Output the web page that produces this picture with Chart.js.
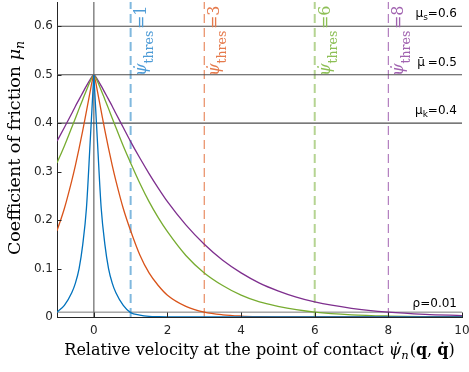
<!DOCTYPE html>
<html>
<head>
<meta charset="utf-8">
<script src="https://cdn.jsdelivr.net/npm/chart.js@4.4.1/dist/chart.umd.min.js"></script>
<style>
  html, body { margin: 0; padding: 0; background: #fff; }
</style>
</head>
<body>
<canvas id="friction" width="469" height="372"></canvas>
<script>
// relative velocity samples (x) and friction coefficient
const velocity = [-1, -0.8, -0.6, -0.5, -0.4, -0.3, -0.2, -0.1, -0.05, 0, 0.05, 0.1, 0.2, 0.3, 0.4, 0.5, 0.6, 0.8, 1, 1.25, 1.5, 1.75, 2, 2.5, 3, 3.5, 4, 4.5, 5, 5.5, 6, 7, 8, 9, 10];
const muThres1 = [0.01, 0.024, 0.05, 0.07, 0.10, 0.15, 0.225, 0.36, 0.43, 0.5, 0.43, 0.36, 0.225, 0.15, 0.10, 0.07, 0.05, 0.024, 0.009, 0.004, 0.0015, 0.0006, 0.0002, 0, 0, 0, 0, 0, 0, 0, 0, 0, 0, 0, 0];
const muThres3 = [0.178, 0.224, 0.281, 0.313, 0.348, 0.385, 0.425, 0.465, 0.485, 0.5, 0.485, 0.465, 0.425, 0.385, 0.348, 0.313, 0.281, 0.224, 0.178, 0.128, 0.091, 0.065, 0.045, 0.022, 0.010, 0.0045, 0.002, 0.0009, 0.0004, 0.0002, 0.0001, 0, 0, 0, 0];
const muThres6 = [0.318, 0.353, 0.391, 0.410, 0.430, 0.449, 0.468, 0.486, 0.494, 0.5, 0.494, 0.486, 0.468, 0.449, 0.430, 0.410, 0.391, 0.353, 0.318, 0.276, 0.238, 0.205, 0.176, 0.127, 0.091, 0.065, 0.045, 0.031, 0.022, 0.015, 0.010, 0.0045, 0.002, 0.0009, 0.0004];
const muThres8 = [0.363, 0.391, 0.420, 0.435, 0.449, 0.463, 0.477, 0.490, 0.496, 0.5, 0.496, 0.490, 0.477, 0.463, 0.449, 0.435, 0.420, 0.391, 0.362, 0.328, 0.296, 0.266, 0.238, 0.190, 0.150, 0.117, 0.091, 0.070, 0.054, 0.041, 0.031, 0.018, 0.010, 0.0055, 0.003];

const thresholds = [1, 3, 6, 8];
const refLevels = [0.6, 0.5, 0.4];
const refNames = ["\u03bc", "\u03bc\u0304", "\u03bc"];
const refSubs = ["s", "", "k"];
const rhoLevel = 0.01;
const xTicks = [0, 2, 4, 6, 8, 10];
const yTicks = [0, 0.1, 0.2, 0.3, 0.4, 0.5, 0.6];
const xRange = [-1, 10];
const yRange = [0, 0.65];

const curveColors = ["#0072BD", "#D95319", "#77AC30", "#7E2F8E"];
const dashColors = ["#80B8DE", "#E88C63", "#B5D492", "#B27DBE"];
const dashWidths = [2, 1.2, 2, 1.2];
const labelColors = ["#4D9BD6", "#E57A4C", "#8DBF55", "#A163B0"];

const SERIF = '"DejaVu Serif"';
const SANS = '"DejaVu Sans"';

const series = [muThres1, muThres3, muThres6, muThres8];
const peak = velocity.indexOf(0);

let datasets = [];
// each curve in two halves so the tip at 0 stays sharp
series.forEach((s, k) => {
  const pts = velocity.map((v, i) => ({ x: v, y: s[i] }));
  [pts.slice(0, peak + 1), pts.slice(peak)].forEach((half) => {
    datasets.push({
      data: half,
      borderColor: curveColors[k],
      borderWidth: 1.3,
      pointRadius: 0,
      cubicInterpolationMode: "monotone",
      order: 0,
    });
  });
});
thresholds.forEach((t, k) => {
  datasets.push({
    data: [{ x: t, y: yRange[0] }, { x: t, y: yRange[1] }],
    borderColor: dashColors[k],
    borderWidth: dashWidths[k],
    borderDash: [9, 5],
    pointRadius: 0,
    order: 2,
  });
});
refLevels.forEach((l) => {
  datasets.push({
    data: [{ x: xRange[0], y: l }, { x: xRange[1], y: l }],
    borderColor: "#4d4d4d",
    borderWidth: 1.1,
    pointRadius: 0,
    order: 1,
  });
});
datasets.push({
  data: [{ x: xRange[0], y: rhoLevel }, { x: xRange[1], y: rhoLevel }],
  borderColor: "#7a7a7a",
  borderWidth: 1,
  pointRadius: 0,
  order: 1,
});
datasets.push({
  data: [{ x: 0, y: yRange[0] }, { x: 0, y: yRange[1] }],
  borderColor: "#858585",
  borderWidth: 1.5,
  pointRadius: 0,
  order: 1,
});

// draw a list of text pieces one after another, returns width
function drawRuns(ctx, runs, x, y) {
  let cx = x;
  runs.forEach((r) => {
    ctx.font = r.font;
    ctx.fillText(r.t, cx, y + (r.dy || 0));
    cx += ctx.measureText(r.t).width + (r.gap || 0);
  });
  return cx - x;
}
function runsWidth(ctx, runs) {
  let w = 0;
  runs.forEach((r) => {
    ctx.font = r.font;
    w += ctx.measureText(r.t).width + (r.gap || 0);
  });
  return w;
}

const tickMarks = {
  id: "tickMarks",
  afterDatasetsDraw(chart) {
    const { ctx, chartArea: a, scales } = chart;
    ctx.save();
    ctx.strokeStyle = "#262626";
    ctx.lineWidth = 1;
    ctx.beginPath();
    xTicks.forEach((v) => {
      const px = Math.round(scales.x.getPixelForValue(v)) + 0.5;
      ctx.moveTo(px, a.bottom);
      ctx.lineTo(px, a.bottom - 4.5);
    });
    yTicks.forEach((v) => {
      const py = Math.round(scales.y.getPixelForValue(v)) + 0.5;
      ctx.moveTo(a.left, py);
      ctx.lineTo(a.left + 4.5, py);
    });
    ctx.stroke();
    ctx.restore();
  },
};

const textLabels = {
  id: "textLabels",
  afterDraw(chart) {
    const { ctx, chartArea: a, scales } = chart;
    ctx.save();
    ctx.textAlign = "left";
    ctx.textBaseline = "alphabetic";

    // threshold labels, rotated
    thresholds.forEach((t, k) => {
      const px = scales.x.getPixelForValue(t);
      ctx.save();
      ctx.fillStyle = labelColors[k];
      ctx.translate(px + 15, 76);
      ctx.rotate(-Math.PI / 2);
      drawRuns(ctx, [
        { t: "\u03c8\u0307", font: "italic 16px " + SERIF },
        { t: "thres", font: "12.5px " + SERIF, dy: 7, gap: 1.5 },
        { t: "=" + t, font: "16px " + SERIF },
      ], 0, 0);
      ctx.restore();
    });

    // reference level labels on the right
    ctx.fillStyle = "#000";
    const rightX = a.right - 5;
    refLevels.forEach((l, k) => {
      const py = scales.y.getPixelForValue(l) - 9;
      const runs = [
        { t: refNames[k], font: "12px " + SANS, gap: refSubs[k] ? 0 : 3 },
        { t: refSubs[k], font: "9px " + SANS, dy: 3 },
        { t: "=" + l, font: "12px " + SANS },
      ];
      drawRuns(ctx, runs, rightX - runsWidth(ctx, runs), py);
    });
    const rhoRuns = [
      { t: "\u03c1", font: "12px " + SANS },
      { t: "=" + rhoLevel, font: "12px " + SANS },
    ];
    drawRuns(ctx, rhoRuns, rightX - runsWidth(ctx, rhoRuns), scales.y.getPixelForValue(rhoLevel) - 5);

    // axis titles
    ctx.fillStyle = "#000";
    const xt = [
      { t: "Relative velocity at the point of contact ", font: "16px " + SERIF },
      { t: "\u03c8\u0307", font: "italic 16px " + SERIF },
      { t: "n", font: "italic 11.5px " + SERIF, dy: 3.5, gap: 1 },
      { t: "(", font: "16px " + SERIF },
      { t: "q", font: "bold 16px " + SERIF },
      { t: ", ", font: "16px " + SERIF },
      { t: "q\u0307", font: "bold 16px " + SERIF },
      { t: ")", font: "16px " + SERIF },
    ];
    const cx = (a.left + a.right) / 2;
    drawRuns(ctx, xt, cx - runsWidth(ctx, xt) / 2, 355);

    const yt = [
      { t: "Coefficient of friction ", font: "17.5px " + SERIF },
      { t: "\u03bc", font: "italic 17.5px " + SERIF },
      { t: "n", font: "italic 12.5px " + SERIF, dy: 3.5 },
    ];
    ctx.translate(20, 148);
    ctx.rotate(-Math.PI / 2);
    drawRuns(ctx, yt, -runsWidth(ctx, yt) / 2, 0);
    ctx.restore();
  },
};

new Chart(document.getElementById("friction"), {
  type: "line",
  data: { datasets: datasets },
  options: {
    responsive: false,
    animation: false,
    events: [],
    layout: { padding: { top: 2, right: 7, left: 0, bottom: 0 } },
    plugins: { legend: { display: false }, tooltip: { enabled: false } },
    scales: {
      x: {
        type: "linear",
        min: xRange[0],
        max: xRange[1],
        afterBuildTicks: (s) => {
          s.ticks = xTicks.map((v) => ({ value: v }));
        },
        afterFit: (s) => {
          s.height = 55;
          s.paddingLeft = 0;
          s.paddingRight = 0;
        },
        grid: { display: false, drawTicks: false },
        border: { display: true, color: "#262626", width: 1 },
        ticks: {
          color: "#262626",
          font: { family: "DejaVu Sans", size: 12 },
          padding: 7,
          maxRotation: 0,
        },
      },
      y: {
        type: "linear",
        min: yRange[0],
        max: yRange[1],
        afterBuildTicks: (s) => {
          s.ticks = yTicks.map((v) => ({ value: v }));
        },
        afterFit: (s) => {
          s.width = 57;
          s.paddingTop = 0;
          s.paddingBottom = 0;
        },
        grid: { display: false, drawTicks: false },
        border: { display: true, color: "#262626", width: 1 },
        ticks: {
          color: "#262626",
          font: { family: "DejaVu Sans", size: 12 },
          padding: 4,
          callback: (v) => String(v),
        },
      },
    },
  },
  plugins: [tickMarks, textLabels],
});
</script>
</body>
</html>
